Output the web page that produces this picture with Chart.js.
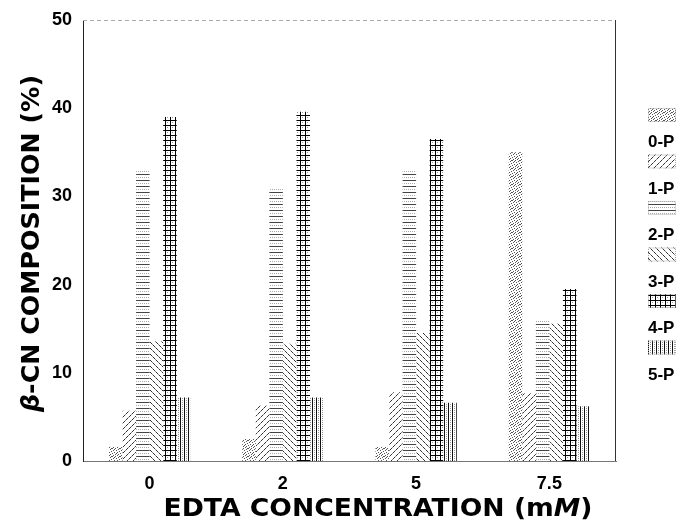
<!DOCTYPE html>
<html>
<head>
<meta charset="utf-8">
<script src="https://cdn.jsdelivr.net/npm/chart.js@4/dist/chart.umd.min.js"></script>
<style>
  html,body{margin:0;padding:0;background:#fff;}
  #wrap{width:680px;height:522px;position:relative;}
</style>
</head>
<body>
<div id="wrap"><canvas id="c" width="680" height="522"></canvas></div>
<script>
// ---- data ----
const categories = ['0', '2', '5', '7.5'];
const seriesNames = ['0-P', '1-P', '2-P', '3-P', '4-P', '5-P'];
const p0 = [1.6, 2.5, 1.6, 35.0];
const p1 = [5.7, 6.3, 7.8, 7.7];
const p2 = [33.0, 31.0, 33.0, 16.0];
const p3 = [13.6, 13.3, 14.5, 15.6];
const p4 = [39.0, 39.6, 36.5, 19.5];
const p5 = [7.2, 7.2, 6.6, 6.2];
const yTicks = [0, 10, 20, 30, 40, 50];
const xTitle = [['EDTA CONCENTRATION (m', false], ['M', true], [')', false]];
const yTitle = [['\u03B2', true], ['-CN COMPOSITION (%)', false]];

// ---- patterns ----
function tile(w, h, draw) {
  const c = document.createElement('canvas');
  c.width = w; c.height = h;
  const g = c.getContext('2d');
  g.fillStyle = '#fff'; g.fillRect(0, 0, w, h);
  draw(g, w, h);
  return document.getElementById('c').getContext('2d').createPattern(c, 'repeat');
}
function px(g, x, y, col) { g.fillStyle = col; g.fillRect(x, y, 1, 1); }
const patterns = [
  // 0-P stipple
  tile(8, 8, g => {
    [[0,0],[3,0],[6,1],[1,2],[4,2],[7,3],[2,4],[5,4],[0,5],[3,6],[6,6],[1,7],[5,7],[4,5],[7,0],[2,1]]
      .forEach(([x,y]) => px(g, x, y, '#555'));
  }),
  // 1-P diagonal /
  tile(6, 6, g => { for (let i = 0; i < 6; i++) px(g, i, 5 - i, i % 3 === 2 ? '#888' : '#333'); }),
  // 2-P horizontal lines
  tile(6, 6, g => {
    for (let i = 0; i < 6; i++) px(g, i, 0, '#444');
    for (let i = 0; i < 6; i += 2) px(g, i, 3, '#aaa');
  }),
  // 3-P diagonal backslash
  tile(6, 6, g => { for (let i = 0; i < 6; i++) px(g, i, i, i % 3 === 2 ? '#888' : '#333'); }),
  // 4-P grid
  tile(5, 5, g => {
    for (let i = 0; i < 5; i++) { px(g, i, 0, '#000'); px(g, 0, i, '#000'); }
    px(g, 2, 2, '#999');
  }),
  // 5-P vertical lines
  tile(4, 4, g => {
    for (let i = 0; i < 4; i++) { px(g, 0, i, '#111'); if (i % 2 === 0) px(g, 2, i, '#999'); }
  })
];

const values = [p0, p1, p2, p3, p4, p5];
const datasets = seriesNames.map((n, i) => ({
  label: n,
  data: values[i],
  backgroundColor: patterns[i],
  borderWidth: 0,
  categoryPercentage: 0.61,
  barPercentage: 1.0
}));

// ---- helpers for rich text ----
function richFont(it, size) {
  return (it ? 'italic ' : '') + 'bold ' + size + 'px "DejaVu Sans", sans-serif';
}
function measureRich(ctx, segs, size) {
  let w = 0;
  segs.forEach(([t, it]) => { ctx.font = richFont(it, size); w += ctx.measureText(t).width; });
  return w;
}
function drawRich(ctx, segs, size, x0, y0) {
  let x = x0;
  segs.forEach(([t, it]) => { ctx.font = richFont(it, size); ctx.fillText(t, x, y0); x += ctx.measureText(t).width; });
}

const decorPlugin = {
  id: 'decor',
  afterDraw(chart) {
    const ctx = chart.ctx;
    const a = chart.chartArea;
    ctx.save();
    // top border (dotted grey) and right border
    ctx.strokeStyle = '#aaa'; ctx.lineWidth = 1;
    ctx.setLineDash([4, 3]);
    ctx.beginPath(); ctx.moveTo(a.left, a.top + 0.5); ctx.lineTo(a.right, a.top + 0.5); ctx.stroke();
    ctx.setLineDash([]);
    ctx.strokeStyle = '#333';
    ctx.beginPath(); ctx.moveTo(a.right - 0.5, a.top); ctx.lineTo(a.right - 0.5, a.bottom); ctx.stroke();

    ctx.fillStyle = '#000';
    ctx.textBaseline = 'alphabetic';
    ctx.textAlign = 'left';
    // x title
    const size = 25;
    let w = measureRich(ctx, xTitle, size);
    const targetW = 429;
    ctx.save();
    ctx.translate(378 - targetW / 2, 516);
    ctx.scale(targetW / w, 1);
    drawRich(ctx, xTitle, size, 0, 0);
    ctx.restore();
    // y title
    w = measureRich(ctx, yTitle, size);
    const targetH = 337;
    ctx.save();
    ctx.translate(39, 243.5 + targetH / 2);
    ctx.rotate(-Math.PI / 2);
    ctx.scale(targetH / w, 1);
    drawRich(ctx, yTitle, size, 0, 0);
    ctx.restore();

    // legend
    chart.data.datasets.forEach((ds, i) => {
      const top = 108 + i * 46.5;
      ctx.fillStyle = ds.backgroundColor;
      ctx.fillRect(648, top, 28, 14);
      ctx.strokeStyle = '#aaa'; ctx.lineWidth = 1;
      ctx.setLineDash([1, 1]);
      ctx.strokeRect(648.5, top + 0.5, 27, 13);
      ctx.setLineDash([]);
      ctx.fillStyle = '#000';
      ctx.font = 'bold 17px "Liberation Sans", Arial, sans-serif';
      ctx.fillText(ds.label, 648, 147 + i * 46.6);
    });
    ctx.restore();
  }
};

new Chart(document.getElementById('c'), {
  type: 'bar',
  data: { labels: categories, datasets },
  options: {
    responsive: false,
    animation: false,
    layout: { padding: { left: 0, right: 64, top: 20, bottom: 0 } },
    plugins: { legend: { display: false }, tooltip: { enabled: false } },
    scales: {
      x: {
        grid: { display: false },
        border: { display: true, color: '#777', width: 1 },
        ticks: {
          color: '#000',
          font: { family: '"Liberation Sans", Arial, sans-serif', size: 18, weight: 'bold' },
          padding: 4,
          maxRotation: 0
        },
        afterFit(s) { s.height = 61; }
      },
      y: {
        min: 0, max: 50,
        afterBuildTicks(s) { s.ticks = yTicks.map(v => ({ value: v })); },
        grid: { display: false },
        border: { display: true, color: '#222', width: 1 },
        ticks: {
          color: '#000',
          font: { family: '"Liberation Sans", Arial, sans-serif', size: 18, weight: 'bold' },
          padding: 3
        },
        afterFit(s) { s.width = 83; }
      }
    }
  },
  plugins: [decorPlugin]
});
</script>
</body>
</html>
